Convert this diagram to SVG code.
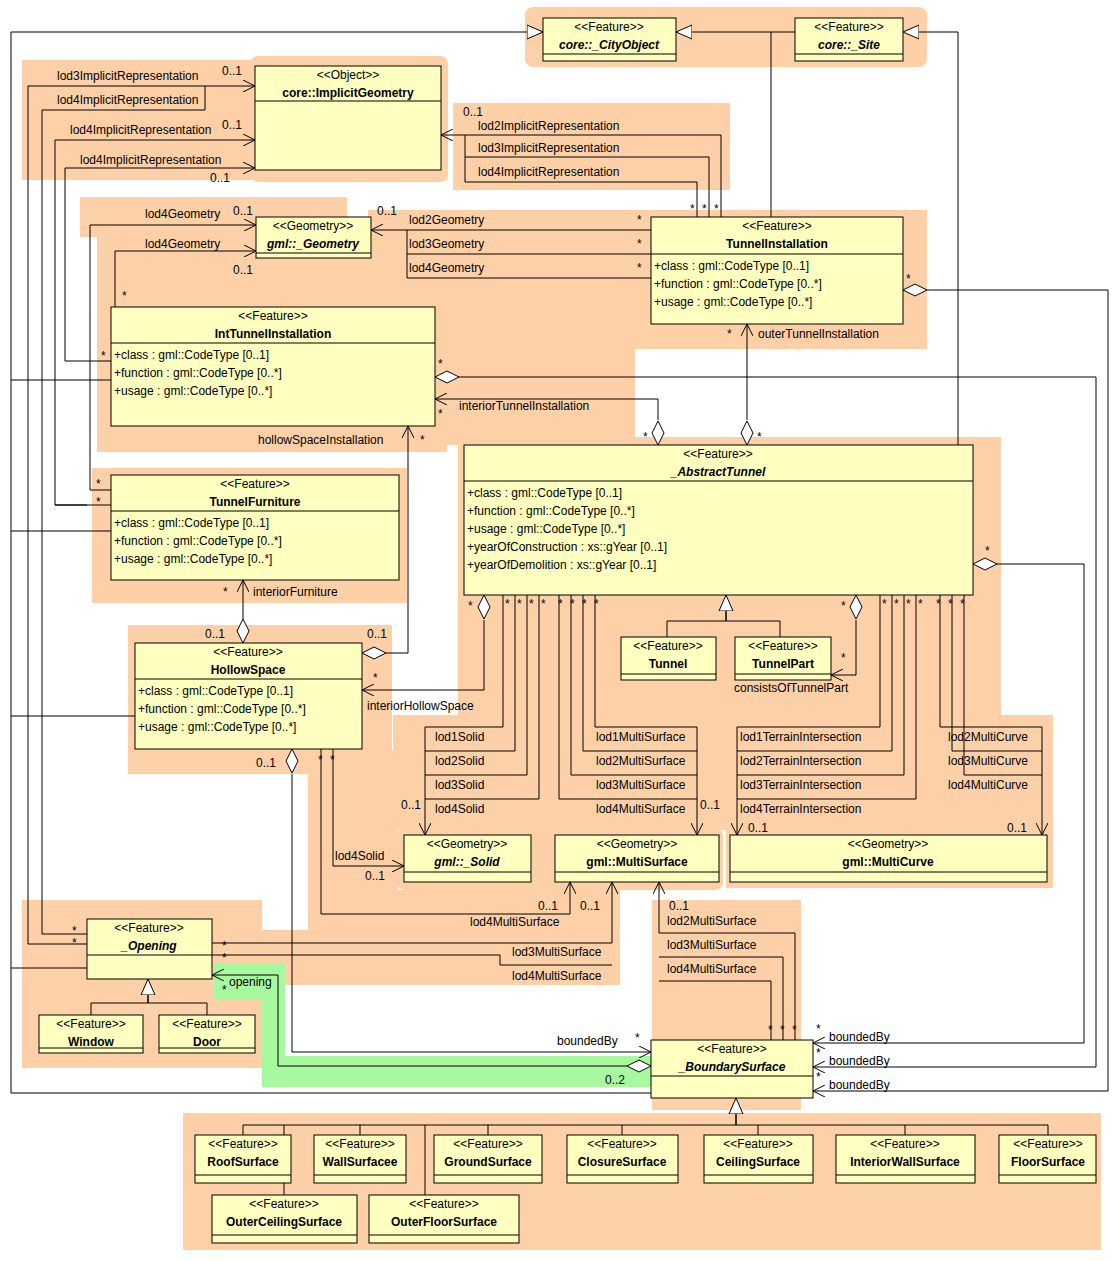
<svg xmlns="http://www.w3.org/2000/svg" width="1120" height="1261" viewBox="0 0 1120 1261">
<defs>
<style>
text{font-family:"Liberation Sans",Arial,sans-serif;font-size:12px;fill:#000}
.b{font-weight:bold}.i{font-weight:bold;font-style:italic}
.k{fill:#ffffc0;stroke:#000;stroke-width:1}
.c{fill:none;stroke:#000;stroke-width:1}
.o{fill:#fdd0a8}
.g{fill:#a8f8a0}
.d{fill:#fff;stroke:#000}
.m{text-anchor:middle}
</style>
<marker id="a" viewBox="0 0 12 12" refX="12" refY="6" markerWidth="12" markerHeight="12" markerUnits="userSpaceOnUse" orient="auto"><path d="M0,0 L12,6 L0,12" fill="none" stroke="#000"/></marker>
<marker id="t" viewBox="0 0 16 16" refX="16" refY="8" markerWidth="16" markerHeight="16" markerUnits="userSpaceOnUse" orient="auto"><path d="M0,1 L16,8 L0,15Z" fill="#fff" stroke="#000"/></marker>
</defs>
<rect width="1120" height="1261" fill="#fff"/>
<g id="backgrounds">
<rect class="o" x="525" y="7" width="402" height="60" rx="8"/>
<rect class="o" x="22" y="60" width="425" height="120"/>
<rect class="o" x="250" y="56" width="198" height="126" rx="8"/>
<rect class="o" x="453" y="103" width="277" height="87"/>
<rect class="o" x="80" y="197" width="267" height="40"/>
<rect class="o" x="97" y="237" width="350" height="215"/>
<rect class="o" x="368" y="210" width="559" height="139"/>
<rect class="o" x="410" y="340" width="225" height="105"/>
<rect class="o" x="458" y="437" width="543" height="278"/>
<rect class="o" x="92" y="468" width="315" height="135"/>
<rect class="o" x="128" y="625" width="264" height="149"/>
<rect class="o" x="393" y="715" width="660" height="115"/>
<rect class="o" x="397" y="828" width="326" height="62" rx="8"/>
<rect class="o" x="726" y="828" width="327" height="60"/>
<rect class="o" x="308" y="750" width="90" height="180"/>
<rect class="o" x="398" y="890" width="222" height="40"/>
<rect class="o" x="22" y="900" width="240" height="168"/>
<rect class="o" x="214" y="930" width="406" height="55"/>
<rect class="o" x="652" y="900" width="149" height="210"/>
<rect class="o" x="183" y="1113" width="918" height="137"/>
<polygon class="g" points="214,963 285,963 285,1056 651,1056 651,1087 262,1087 262,1000 214,1000"/>
</g>
<g id="connectors">
<path class="c" d="M11,1093 L11,32 L543,32" marker-end="url(#t)"/>
<path class="c" d="M11,1093 L651,1093"/>
<path class="c" d="M11,380 L111,380 M11,531 L111,531 M11,716 L135,716 M11,968 L87,968"/>
<path class="c" d="M795,32 L676,32" marker-end="url(#t)"/>
<path class="c" d="M771,217 L771,32"/>
<path class="c" d="M958,445 L958,32 L903,32" marker-end="url(#t)"/>
<path class="c" d="M28,944 L28,86 L255,86" marker-end="url(#a)"/>
<path class="c" d="M42,934 L42,110 L205,110 L205,86"/>
<path class="c" d="M28,944 L87,944 M42,934 L87,934"/>
<path class="c" d="M87,505 L55,505 L55,140 L255,140" marker-end="url(#a)"/>
<path class="c" d="M111,361 L65,361 L65,168 L255,168" marker-end="url(#a)"/>
<path class="c" d="M111,490 L90,490 L90,225 L256,225" marker-end="url(#a)"/>
<path class="c" d="M55,505 L111,505"/>
<path class="c" d="M115,307 L115,251 L256,251" marker-end="url(#a)"/>
<path class="c" d="M721,217 L721,135 L441,135" marker-end="url(#a)"/>
<path class="c" d="M709,217 L709,157 L465,157 M697,217 L697,182 L465,182 L465,135"/>
<path class="c" d="M651,230 L371,230" marker-end="url(#a)"/>
<path class="c" d="M651,254 L407,254 M651,278 L407,278 L407,230"/>
<path class="c" d="M747,420 L747,324" marker-end="url(#a)"/>
<polygon class="d" points="747,445 741,433 747,421 753,433"/>
<path class="c" d="M658,420 L658,399 L435,399" marker-end="url(#a)"/>
<polygon class="d" points="658,445 652,433 658,421 664,433"/>
<path class="c" d="M386,653 L408,653 L408,426" marker-end="url(#a)"/>
<polygon class="d" points="362,653 374,647 386,653 374,659"/>
<path class="c" d="M243,619 L243,580" marker-end="url(#a)"/>
<polygon class="d" points="243,643 237,631 243,619 249,631"/>
<path class="c" d="M484,620 L484,690 L362,690" marker-end="url(#a)"/>
<polygon class="d" points="484,595 478,607 484,619 490,607"/>
<path class="c" d="M856,620 L856,675 L831,675" marker-end="url(#a)"/>
<polygon class="d" points="856,595 850,607 856,619 862,607"/>
<path class="c" d="M726,611 L726,621 M667,637 L667,621 L780,621 L780,637"/>
<path class="c" d="M726,621 L726,595" marker-end="url(#t)"/>
<path class="c" d="M927,290 L1108,290 L1108,1091 L813,1091" marker-end="url(#a)"/>
<polygon class="d" points="903,290 915,284 927,290 915,296"/>
<path class="c" d="M459,377 L1096,377 L1096,1067 L813,1067" marker-end="url(#a)"/>
<polygon class="d" points="435,377 447,371 459,377 447,383"/>
<path class="c" d="M997,564 L1084,564 L1084,1043 L813,1043" marker-end="url(#a)"/>
<polygon class="d" points="973,564 985,558 997,564 985,570"/>
<path class="c" d="M503,595 L503,727 L425,727 L425,835" marker-end="url(#a)"/>
<path class="c" d="M515,595 L515,751 L425,751 M527,595 L527,775 L425,775 M539,595 L539,799 L425,799"/>
<path class="c" d="M595,595 L595,727 L697,727 L697,835" marker-end="url(#a)"/>
<path class="c" d="M583,595 L583,751 L697,751 M571,595 L571,775 L697,775 M559,595 L559,799 L697,799"/>
<path class="c" d="M880,595 L880,727 L737,727 L737,835" marker-end="url(#a)"/>
<path class="c" d="M892,595 L892,751 L737,751 M904,595 L904,775 L737,775 M916,595 L916,799 L737,799"/>
<path class="c" d="M940,595 L940,727 L1042,727 L1042,835" marker-end="url(#a)"/>
<path class="c" d="M952,595 L952,751 L1042,751 M964,595 L964,775 L1042,775"/>
<path class="c" d="M333,749 L333,866 L404,866" marker-end="url(#a)"/>
<path class="c" d="M321,749 L321,914 L570,914 L570,882" marker-end="url(#a)"/>
<path class="c" d="M212,943 L612,943 L612,882" marker-end="url(#a)"/>
<path class="c" d="M212,955 L500,955 L500,965 L612,965"/>
<path class="c" d="M795,1040 L795,933 L659,933 L659,882" marker-end="url(#a)"/>
<path class="c" d="M783,1040 L783,957 L659,957 M771,1040 L771,981 L659,981"/>
<path class="c" d="M148,995 L148,1003 M91,1015 L91,1003 L207,1003 L207,1015"/>
<path class="c" d="M148,1003 L148,979" marker-end="url(#t)"/>
<path class="c" d="M627,1066 L278,1066 L278,975 L212,975" marker-end="url(#a)"/>
<polygon class="d" points="651,1066 639,1060 627,1066 639,1072"/>
<path class="c" d="M292,774 L292,1052 L651,1052" marker-end="url(#a)"/>
<polygon class="d" points="292,749 286,761 292,773 298,761"/>
<path class="c" d="M736,1114 L736,1125 M243,1135 L243,1125 L1048,1125 L1048,1135 M360,1135 L360,1125 M488,1135 L488,1125 M622,1135 L622,1125 M758,1135 L758,1125 M905,1135 L905,1125 M284,1195 L284,1125 M425,1195 L425,1125"/>
<path class="c" d="M736,1125 L736,1098" marker-end="url(#t)"/>
</g>
<g id="labels">
<text x="57" y="80">lod3ImplicitRepresentation</text><text x="222" y="75">0..1</text>
<text x="57" y="104">lod4ImplicitRepresentation</text>
<text x="70" y="134">lod4ImplicitRepresentation</text><text x="222" y="129">0..1</text>
<text x="80" y="164">lod4ImplicitRepresentation</text><text x="210" y="182">0..1</text>
<text x="463" y="116">0..1</text>
<text x="478" y="130">lod2ImplicitRepresentation</text>
<text x="478" y="152">lod3ImplicitRepresentation</text>
<text x="478" y="176">lod4ImplicitRepresentation</text>
<text x="690" y="213">*</text><text x="702" y="213">*</text><text x="714" y="213">*</text>
<text x="145" y="218">lod4Geometry</text><text x="233" y="215">0..1</text>
<text x="145" y="248">lod4Geometry</text><text x="233" y="274">0..1</text>
<text x="122" y="300">*</text>
<text x="377" y="215">0..1</text>
<text x="409" y="224">lod2Geometry</text><text x="637" y="224">*</text>
<text x="409" y="248">lod3Geometry</text><text x="637" y="248">*</text>
<text x="409" y="272">lod4Geometry</text><text x="637" y="272">*</text>
<text x="906" y="283">*</text>
<text x="727" y="338">*</text><text x="758" y="338">outerTunnelInstallation</text>
<text x="101" y="360">*</text>
<text x="438" y="368">*</text>
<text x="438" y="418">*</text><text x="459" y="410">interiorTunnelInstallation</text>
<text x="258" y="444">hollowSpaceInstallation</text><text x="420" y="444">*</text>
<text x="643" y="441">*</text><text x="757" y="441">*</text>
<text x="96" y="488">*</text><text x="96" y="506">*</text>
<text x="985" y="555">*</text>
<text x="468" y="610">*</text>
<text x="505" y="608">*</text><text x="517" y="608">*</text><text x="529" y="608">*</text><text x="541" y="608">*</text>
<text x="558" y="608">*</text><text x="570" y="608">*</text><text x="582" y="608">*</text><text x="594" y="608">*</text>
<text x="841" y="610">*</text>
<text x="882" y="608">*</text><text x="894" y="608">*</text><text x="906" y="608">*</text><text x="918" y="608">*</text>
<text x="936" y="608">*</text><text x="948" y="608">*</text><text x="960" y="608">*</text>
<text x="223" y="596">*</text><text x="253" y="596">interiorFurniture</text>
<text x="205" y="638">0..1</text><text x="367" y="638">0..1</text>
<text x="841" y="662">*</text><text x="734" y="692">consistsOfTunnelPart</text>
<text x="373" y="682">*</text><text x="367" y="710">interiorHollowSpace</text>
<text x="435" y="741">lod1Solid</text><text x="435" y="765">lod2Solid</text><text x="435" y="789">lod3Solid</text><text x="435" y="813">lod4Solid</text>
<text x="401" y="809">0..1</text>
<text x="596" y="741">lod1MultiSurface</text><text x="596" y="765">lod2MultiSurface</text><text x="596" y="789">lod3MultiSurface</text><text x="596" y="813">lod4MultiSurface</text>
<text x="700" y="809">0..1</text>
<text x="740" y="741">lod1TerrainIntersection</text><text x="740" y="765">lod2TerrainIntersection</text><text x="740" y="789">lod3TerrainIntersection</text><text x="740" y="813">lod4TerrainIntersection</text>
<text x="748" y="832">0..1</text>
<text x="948" y="741">lod2MultiCurve</text><text x="948" y="765">lod3MultiCurve</text><text x="948" y="789">lod4MultiCurve</text>
<text x="1007" y="832">0..1</text>
<text x="256" y="767">0..1</text>
<text x="318" y="764">*</text><text x="330" y="764">*</text>
<text x="335" y="860">lod4Solid</text><text x="365" y="880">0..1</text>
<text x="538" y="910">0..1</text><text x="580" y="910">0..1</text><text x="669" y="910">0..1</text>
<text x="470" y="926">lod4MultiSurface</text>
<text x="667" y="925">lod2MultiSurface</text><text x="667" y="949">lod3MultiSurface</text><text x="667" y="973">lod4MultiSurface</text>
<text x="72" y="935">*</text><text x="72" y="947">*</text>
<text x="222" y="950">*</text><text x="222" y="962">*</text>
<text x="512" y="956">lod3MultiSurface</text><text x="512" y="980">lod4MultiSurface</text>
<text x="229" y="986">opening</text><text x="222" y="994">*</text>
<text x="768" y="1034">*</text><text x="780" y="1034">*</text><text x="792" y="1034">*</text>
<text x="557" y="1045">boundedBy</text><text x="635" y="1042">*</text>
<text x="605" y="1084">0..2</text>
<text x="816" y="1033">*</text><text x="829" y="1041">boundedBy</text>
<text x="816" y="1057">*</text><text x="829" y="1065">boundedBy</text>
<text x="816" y="1081">*</text><text x="829" y="1089">boundedBy</text>
</g>
<g id="CityObject"><rect class="k" x="543" y="18" width="133" height="43"/><line class="c" x1="543" y1="54" x2="676" y2="54"/><text class="m" x="609" y="31">&lt;&lt;Feature&gt;&gt;</text><text class="m i" x="609" y="49">core::_CityObject</text></g>
<g id="Site"><rect class="k" x="795" y="18" width="108" height="43"/><line class="c" x1="795" y1="54" x2="903" y2="54"/><text class="m" x="849" y="31">&lt;&lt;Feature&gt;&gt;</text><text class="m i" x="849" y="49">core::_Site</text></g>
<g id="ImplicitGeometry"><rect class="k" x="255" y="66" width="186" height="104"/><line class="c" x1="255" y1="101" x2="441" y2="101"/><text class="m" x="348" y="79">&lt;&lt;Object&gt;&gt;</text><text class="m b" x="348" y="97">core::ImplicitGeometry</text></g>
<g id="Geometry"><rect class="k" x="256" y="217" width="115" height="41"/><line class="c" x1="256" y1="253" x2="371" y2="253"/><text class="m" x="313" y="230">&lt;&lt;Geometry&gt;&gt;</text><text class="m i" x="313" y="248">gml::_Geometry</text></g>
<g id="TunnelInstallation"><rect class="k" x="651" y="217" width="252" height="107"/><line class="c" x1="651" y1="254" x2="903" y2="254"/><text class="m" x="777" y="230">&lt;&lt;Feature&gt;&gt;</text><text class="m b" x="777" y="248">TunnelInstallation</text><text x="654" y="270">+class : gml::CodeType [0..1]</text><text x="654" y="288">+function : gml::CodeType [0..*]</text><text x="654" y="306">+usage : gml::CodeType [0..*]</text></g>
<g id="IntTunnelInstallation"><rect class="k" x="111" y="307" width="324" height="119"/><line class="c" x1="111" y1="343" x2="435" y2="343"/><text class="m" x="273" y="320">&lt;&lt;Feature&gt;&gt;</text><text class="m b" x="273" y="338">IntTunnelInstallation</text><text x="114" y="359">+class : gml::CodeType [0..1]</text><text x="114" y="377">+function : gml::CodeType [0..*]</text><text x="114" y="395">+usage : gml::CodeType [0..*]</text></g>
<g id="AbstractTunnel"><rect class="k" x="464" y="445" width="509" height="150"/><line class="c" x1="464" y1="481" x2="973" y2="481"/><text class="m" x="718" y="458">&lt;&lt;Feature&gt;&gt;</text><text class="m i" x="718" y="476">_AbstractTunnel</text><text x="467" y="497">+class : gml::CodeType [0..1]</text><text x="467" y="515">+function : gml::CodeType [0..*]</text><text x="467" y="533">+usage : gml::CodeType [0..*]</text><text x="467" y="551">+yearOfConstruction : xs::gYear [0..1]</text><text x="467" y="569">+yearOfDemolition : xs::gYear [0..1]</text></g>
<g id="TunnelFurniture"><rect class="k" x="111" y="475" width="288" height="105"/><line class="c" x1="111" y1="511" x2="399" y2="511"/><text class="m" x="255" y="488">&lt;&lt;Feature&gt;&gt;</text><text class="m b" x="255" y="506">TunnelFurniture</text><text x="114" y="527">+class : gml::CodeType [0..1]</text><text x="114" y="545">+function : gml::CodeType [0..*]</text><text x="114" y="563">+usage : gml::CodeType [0..*]</text></g>
<g id="Tunnel"><rect class="k" x="621" y="637" width="95" height="43"/><line class="c" x1="621" y1="674" x2="716" y2="674"/><text class="m" x="668" y="650">&lt;&lt;Feature&gt;&gt;</text><text class="m b" x="668" y="668">Tunnel</text></g>
<g id="TunnelPart"><rect class="k" x="735" y="637" width="96" height="43"/><line class="c" x1="735" y1="674" x2="831" y2="674"/><text class="m" x="783" y="650">&lt;&lt;Feature&gt;&gt;</text><text class="m b" x="783" y="668">TunnelPart</text></g>
<g id="HollowSpace"><rect class="k" x="135" y="643" width="227" height="106"/><line class="c" x1="135" y1="679" x2="362" y2="679"/><text class="m" x="248" y="656">&lt;&lt;Feature&gt;&gt;</text><text class="m b" x="248" y="674">HollowSpace</text><text x="138" y="695">+class : gml::CodeType [0..1]</text><text x="138" y="713">+function : gml::CodeType [0..*]</text><text x="138" y="731">+usage : gml::CodeType [0..*]</text></g>
<g id="Solid"><rect class="k" x="404" y="835" width="127" height="47"/><line class="c" x1="404" y1="872" x2="531" y2="872"/><text class="m" x="467" y="848">&lt;&lt;Geometry&gt;&gt;</text><text class="m i" x="467" y="866">gml::_Solid</text></g>
<g id="MultiSurface"><rect class="k" x="555" y="835" width="164" height="47"/><line class="c" x1="555" y1="872" x2="719" y2="872"/><text class="m" x="637" y="848">&lt;&lt;Geometry&gt;&gt;</text><text class="m b" x="637" y="866">gml::MultiSurface</text></g>
<g id="MultiCurve"><rect class="k" x="730" y="835" width="317" height="47"/><line class="c" x1="730" y1="872" x2="1047" y2="872"/><text class="m" x="888" y="848">&lt;&lt;Geometry&gt;&gt;</text><text class="m b" x="888" y="866">gml::MultiCurve</text></g>
<g id="Opening"><rect class="k" x="87" y="919" width="125" height="60"/><line class="c" x1="87" y1="955" x2="212" y2="955"/><text class="m" x="149" y="932">&lt;&lt;Feature&gt;&gt;</text><text class="m i" x="149" y="950">_Opening</text></g>
<g id="Window"><rect class="k" x="39" y="1015" width="104" height="38"/><line class="c" x1="39" y1="1048" x2="143" y2="1048"/><text class="m" x="91" y="1028">&lt;&lt;Feature&gt;&gt;</text><text class="m b" x="91" y="1046">Window</text></g>
<g id="Door"><rect class="k" x="159" y="1015" width="96" height="38"/><line class="c" x1="159" y1="1048" x2="255" y2="1048"/><text class="m" x="207" y="1028">&lt;&lt;Feature&gt;&gt;</text><text class="m b" x="207" y="1046">Door</text></g>
<g id="BoundarySurface"><rect class="k" x="651" y="1040" width="162" height="58"/><line class="c" x1="651" y1="1076" x2="813" y2="1076"/><text class="m" x="732" y="1053">&lt;&lt;Feature&gt;&gt;</text><text class="m i" x="732" y="1071">_BoundarySurface</text></g>
<g id="RoofSurface"><rect class="k" x="195" y="1135" width="96" height="48"/><line class="c" x1="195" y1="1175" x2="291" y2="1175"/><text class="m" x="243" y="1148">&lt;&lt;Feature&gt;&gt;</text><text class="m b" x="243" y="1166">RoofSurface</text></g>
<g id="WallSurfacee"><rect class="k" x="314" y="1135" width="92" height="48"/><line class="c" x1="314" y1="1175" x2="406" y2="1175"/><text class="m" x="360" y="1148">&lt;&lt;Feature&gt;&gt;</text><text class="m b" x="360" y="1166">WallSurfacee</text></g>
<g id="GroundSurface"><rect class="k" x="434" y="1135" width="108" height="48"/><line class="c" x1="434" y1="1175" x2="542" y2="1175"/><text class="m" x="488" y="1148">&lt;&lt;Feature&gt;&gt;</text><text class="m b" x="488" y="1166">GroundSurface</text></g>
<g id="ClosureSurface"><rect class="k" x="567" y="1135" width="111" height="48"/><line class="c" x1="567" y1="1175" x2="678" y2="1175"/><text class="m" x="622" y="1148">&lt;&lt;Feature&gt;&gt;</text><text class="m b" x="622" y="1166">ClosureSurface</text></g>
<g id="CeilingSurface"><rect class="k" x="704" y="1135" width="109" height="48"/><line class="c" x1="704" y1="1175" x2="813" y2="1175"/><text class="m" x="758" y="1148">&lt;&lt;Feature&gt;&gt;</text><text class="m b" x="758" y="1166">CeilingSurface</text></g>
<g id="InteriorWallSurface"><rect class="k" x="836" y="1135" width="139" height="48"/><line class="c" x1="836" y1="1175" x2="975" y2="1175"/><text class="m" x="905" y="1148">&lt;&lt;Feature&gt;&gt;</text><text class="m b" x="905" y="1166">InteriorWallSurface</text></g>
<g id="FloorSurface"><rect class="k" x="999" y="1135" width="97" height="48"/><line class="c" x1="999" y1="1175" x2="1096" y2="1175"/><text class="m" x="1048" y="1148">&lt;&lt;Feature&gt;&gt;</text><text class="m b" x="1048" y="1166">FloorSurface</text></g>
<g id="OuterCeilingSurface"><rect class="k" x="212" y="1195" width="145" height="48"/><line class="c" x1="212" y1="1235" x2="357" y2="1235"/><text class="m" x="284" y="1208">&lt;&lt;Feature&gt;&gt;</text><text class="m b" x="284" y="1226">OuterCeilingSurface</text></g>
<g id="OuterFloorSurface"><rect class="k" x="369" y="1195" width="150" height="48"/><line class="c" x1="369" y1="1235" x2="519" y2="1235"/><text class="m" x="444" y="1208">&lt;&lt;Feature&gt;&gt;</text><text class="m b" x="444" y="1226">OuterFloorSurface</text></g>
</svg>
